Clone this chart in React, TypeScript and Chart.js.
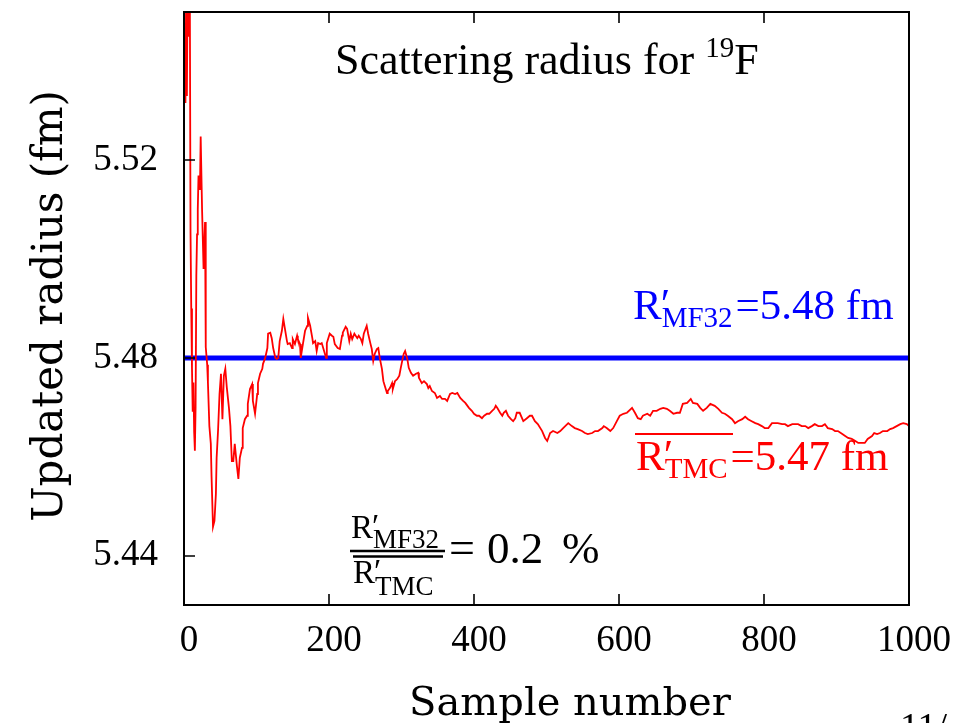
import React, { useEffect, useRef } from "react";
import { Chart, registerables } from "chart.js";

Chart.register(...registerables);

// ---- data ----
const sampleNumber = [
  1, 2, 3, 4, 5, 6, 7, 8, 9, 10,
  11, 12, 13, 14, 15, 16, 17, 18, 19, 20,
  22, 23, 25, 27, 29, 30, 32, 33, 35, 37,
  38, 40, 42, 44, 45, 47, 49, 51, 53, 55,
  57, 59, 62, 64, 66, 68, 70, 73, 75, 77,
  80, 81, 84, 87, 88, 91, 94, 95, 98, 101,
  102, 105, 108, 109, 112, 115, 116, 119, 121, 123,
  126, 128, 130, 132, 135, 137, 139, 142, 143, 146,
  149, 150, 153, 156, 157, 160, 161, 164, 167, 170,
  171, 174, 177, 178, 181, 183, 185, 188, 190, 192,
  196, 197, 201, 204, 206, 208, 212, 215, 218, 219,
  223, 225, 228, 230, 232, 235, 239, 241, 244, 246,
  248, 252, 254, 257, 259, 261, 263, 266, 268, 270,
  273, 275, 277, 280, 281, 284, 287, 288, 291, 294,
  297, 299, 301, 303, 305, 308, 310, 313, 316, 320,
  323, 324, 328, 331, 335, 337, 339, 342, 346, 349,
  353, 356, 360, 363, 367, 370, 374, 377, 381, 385,
  388, 390, 393, 397, 400, 404, 407, 411, 414, 418,
  421, 425, 428, 430, 432, 436, 439, 441, 444, 447,
  451, 454, 457, 459, 463, 468, 473, 477, 480, 484,
  488, 494, 498, 501, 505, 509, 515, 519, 523, 530,
  535, 539, 543, 549, 553, 557, 563, 567, 571, 577,
  579, 583, 588, 592, 597, 601, 606, 611, 618, 622,
  626, 630, 633, 639, 643, 647, 652, 657, 661, 666,
  670, 675, 680, 684, 688, 694, 699, 702, 708, 712,
  716, 721, 726, 732, 737, 742, 746, 750, 756, 760,
  764, 770, 774, 778, 783, 788, 792, 797, 801, 806,
  811, 815, 819, 825, 829, 833, 839, 843, 847, 852,
  857, 861, 866, 870, 875, 880, 884, 888, 894, 898,
  902, 908, 912, 916, 921, 926, 930, 935, 939, 943,
  949, 952, 956, 960, 964, 970, 974, 978, 983, 988,
  992, 997, 1000,
];

const updatedRadius = [
  5.540, 5.5316, 5.556, 5.533, 5.556, 5.545, 5.5476, 5.556, 5.5053, 5.490,
  5.478, 5.4691, 5.475, 5.465, 5.4612, 5.470, 5.4966, 5.505, 5.510, 5.5169,
  5.514, 5.5248, 5.5096, 5.498, 5.5075, 5.4822, 5.4786, 5.475, 5.4662, 5.4626,
  5.456, 5.4458, 5.447, 5.4525, 5.4598, 5.4654, 5.4727, 5.4768, 5.4676, 5.4764,
  5.4778, 5.4741, 5.4699, 5.4662, 5.4591, 5.4591, 5.4626, 5.4581, 5.4555, 5.4598,
  5.4618, 5.4658, 5.4676, 5.4683, 5.4707, 5.4737, 5.4747, 5.4713, 5.4687, 5.4727,
  5.4749, 5.4768, 5.4778, 5.4788, 5.480, 5.482, 5.4849, 5.4851, 5.484, 5.482,
  5.480, 5.4798, 5.480, 5.4834, 5.4855, 5.4879, 5.4861, 5.4834, 5.4828, 5.483,
  5.482, 5.4838, 5.4828, 5.4845, 5.4838, 5.4828, 5.480, 5.4828, 5.4855, 5.4865,
  5.4881, 5.4865, 5.484, 5.483, 5.4834, 5.4814, 5.483, 5.4828, 5.483, 5.482,
  5.480, 5.483, 5.4849, 5.4845, 5.4843, 5.4828, 5.482, 5.4818, 5.4845, 5.4851,
  5.4863, 5.4859, 5.4834, 5.4849, 5.4838, 5.4849, 5.484, 5.4845, 5.4838, 5.483,
  5.4849, 5.4865, 5.4849, 5.483, 5.4818, 5.4794, 5.4808, 5.4818, 5.482, 5.480,
  5.4778, 5.4753, 5.4743, 5.4729, 5.4733, 5.4739, 5.4749, 5.4737, 5.4753, 5.4757,
  5.4764, 5.478, 5.4794, 5.4808, 5.4814, 5.4798, 5.478, 5.477, 5.4764, 5.4768,
  5.477, 5.476, 5.4749, 5.4753, 5.4747, 5.4739, 5.4743, 5.4733, 5.4729, 5.4719,
  5.4723, 5.4717, 5.4717, 5.4713, 5.4727, 5.4729, 5.4727, 5.4729, 5.4719, 5.4713,
  5.4709, 5.4705, 5.4699, 5.4693, 5.4687, 5.4683, 5.4683, 5.4678, 5.4683, 5.4687,
  5.4687, 5.4693, 5.4697, 5.4703, 5.4699, 5.4689, 5.4683, 5.4689, 5.4693, 5.4683,
  5.4676, 5.4672, 5.4678, 5.4689, 5.4689, 5.4672, 5.4678, 5.4683, 5.4683, 5.4672,
  5.4666, 5.4652, 5.4638, 5.4632, 5.4648, 5.4652, 5.4648, 5.4652, 5.4658, 5.4668,
  5.4662, 5.4658, 5.4656, 5.4652, 5.4648, 5.4646, 5.4648, 5.4652, 5.4652, 5.4658,
  5.4662, 5.4658, 5.4652, 5.4658, 5.4672, 5.4683, 5.4687, 5.4689, 5.4699, 5.4689,
  5.4678, 5.4676, 5.4683, 5.4687, 5.4683, 5.4693, 5.4693, 5.4697, 5.4699, 5.4697,
  5.4693, 5.4687, 5.4689, 5.4689, 5.4707, 5.4709, 5.4717, 5.4709, 5.4707, 5.4699,
  5.4693, 5.4699, 5.4707, 5.4703, 5.4697, 5.4689, 5.4687, 5.4683, 5.4676, 5.4668,
  5.4672, 5.4676, 5.4681, 5.4676, 5.4672, 5.4668, 5.4666, 5.4662, 5.4658, 5.4658,
  5.4668, 5.4668, 5.4668, 5.4666, 5.4666, 5.4662, 5.4666, 5.4666, 5.4666, 5.4662,
  5.4662, 5.4658, 5.4662, 5.4666, 5.4662, 5.4662, 5.4666, 5.4658, 5.4656, 5.4652,
  5.4652, 5.4646, 5.4642, 5.4638, 5.4636, 5.4632, 5.4628, 5.4628, 5.4628, 5.4636,
  5.4642, 5.4648, 5.4646, 5.4648, 5.4652, 5.4652, 5.4656, 5.4658, 5.4662, 5.4666,
  5.4668, 5.4666, 5.4662,
];

const mf32Radius = 5.48;
const xTickValues = [0, 200, 400, 600, 800, 1000];
const yTickValues = [5.44, 5.48, 5.52];
const xRange = [0, 1000];
const yRange = [5.43, 5.55];

const SERIF = '"Liberation Serif", "Times New Roman", serif';
const WIDE = '"DejaVu Serif", serif';

function drawRSub(ctx: CanvasRenderingContext2D, x: number, base: number, size: number, sub: string, subSize: number, drop: number) {
  ctx.font = `${size}px ${SERIF}`;
  ctx.fillText("R", x, base);
  const w = ctx.measureText("R").width;
  ctx.fillText("\u2032", x + w - 1, base - size * 0.02);
  ctx.font = `${subSize}px ${SERIF}`;
  ctx.fillText(sub, x + w, base + drop);
  return x + w + ctx.measureText(sub).width;
}

const decorPlugin = {
  id: "decor",
  afterDraw(chart: any) {
    const ctx: CanvasRenderingContext2D = chart.ctx;
    const { left, right, top, bottom } = chart.chartArea;
    const xs = chart.scales.x;
    const ys = chart.scales.y;
    ctx.save();
    // frame
    ctx.strokeStyle = "#000";
    ctx.lineWidth = 2;
    ctx.strokeRect(left, top, right - left, bottom - top);
    // inward ticks
    ctx.lineWidth = 1.6;
    ctx.beginPath();
    for (const v of xTickValues) {
      const px = Math.round(xs.getPixelForValue(v));
      ctx.moveTo(px, bottom);
      ctx.lineTo(px, bottom - 11);
      ctx.moveTo(px, top);
      ctx.lineTo(px, top + 11);
    }
    for (const v of yTickValues) {
      const py = Math.round(ys.getPixelForValue(v));
      ctx.moveTo(left, py);
      ctx.lineTo(left + 11, py);
    }
    ctx.stroke();

    ctx.textAlign = "left";
    ctx.textBaseline = "alphabetic";
    ctx.fillStyle = "#000";

    // axis titles
    ctx.font = `40px ${WIDE}`;
    ctx.textAlign = "center";
    ctx.fillText("Sample number", 570, 715);
    ctx.save();
    ctx.translate(62, 306);
    ctx.rotate(-Math.PI / 2);
    ctx.font = `42px ${WIDE}`;
    ctx.fillText("Updated radius (fm)", 0, 0);
    ctx.restore();
    ctx.textAlign = "left";

    // inner title
    ctx.font = `44px ${SERIF}`;
    const t1 = "Scattering radius for ";
    ctx.fillText(t1, 335, 74);
    let xx = 335 + ctx.measureText(t1).width;
    ctx.font = `29px ${SERIF}`;
    ctx.fillText("19", xx, 57);
    xx += ctx.measureText("19").width;
    ctx.font = `44px ${SERIF}`;
    ctx.fillText("F", xx, 74);

    // blue label
    ctx.fillStyle = "#0000ff";
    let e = drawRSub(ctx, 633, 319, 43, "MF32", 29, 8);
    ctx.font = `43px ${SERIF}`;
    ctx.fillText("=5.48 fm", e + 3, 319);

    // red label
    ctx.fillStyle = "#ff0000";
    ctx.strokeStyle = "#ff0000";
    ctx.lineWidth = 2;
    ctx.beginPath();
    ctx.moveTo(635, 434);
    ctx.lineTo(733, 434);
    ctx.stroke();
    e = drawRSub(ctx, 636, 470, 43, "TMC", 29, 8);
    ctx.font = `43px ${SERIF}`;
    ctx.fillText("=5.47 fm", e + 3, 470);

    // ratio
    ctx.fillStyle = "#000";
    ctx.strokeStyle = "#000";
    drawRSub(ctx, 351, 538, 33, "MF32", 27, 10);
    ctx.lineWidth = 2.5;
    ctx.beginPath();
    ctx.moveTo(350, 551);
    ctx.lineTo(445, 551);
    ctx.moveTo(353, 556.5);
    ctx.lineTo(443, 556.5);
    ctx.stroke();
    drawRSub(ctx, 353, 583, 33, "TMC", 27, 12);
    ctx.font = `46px ${SERIF}`;
    ctx.fillText("=", 449, 563);
    ctx.font = `45px ${SERIF}`;
    ctx.fillText("0.2", 487, 563);
    ctx.fillText("%", 562, 563);

    // page number fragment
    ctx.font = `38px ${SERIF}`;
    ctx.fillText("11/", 900, 739);
    ctx.restore();
  },
};

function zeroPadding(s: any) {
  s.paddingTop = 0;
  s.paddingBottom = 0;
  s.paddingLeft = 0;
  s.paddingRight = 0;
}

export default function App() {
  const ref = useRef<HTMLCanvasElement>(null);
  useEffect(() => {
    if (!ref.current) return;
    const chart = new Chart(ref.current, {
      type: "line",
      data: {
        datasets: [
          {
            label: "TMC",
            data: sampleNumber.map((s, i) => ({ x: s, y: updatedRadius[i] })),
            borderColor: "#ff0000",
            borderWidth: 1.8,
            pointRadius: 0,
            tension: 0,
            fill: false,
          },
          {
            label: "MF32",
            data: xRange.map((s) => ({ x: s, y: mf32Radius })),
            borderColor: "#0000ff",
            borderWidth: 5,
            pointRadius: 0,
            fill: false,
          },
        ],
      },
      options: {
        animation: false,
        responsive: false,
        devicePixelRatio: 1,
        layout: { padding: { top: 12, right: 52, left: 0, bottom: 0 } },
        plugins: { legend: { display: false }, tooltip: { enabled: false } },
        scales: {
          x: {
            type: "linear",
            min: xRange[0],
            max: xRange[1],
            afterBuildTicks: (s: any) => {
              s.ticks = xTickValues.map((v) => ({ value: v }));
            },
            afterFit: (s: any) => {
              s.height = 118;
              zeroPadding(s);
            },
            grid: { display: false, drawTicks: false },
            border: { display: false },
            ticks: {
              color: "#000",
              font: { family: SERIF, size: 37 },
              padding: 14,
              labelOffset: 5,
              maxRotation: 0,
              autoSkip: false,
              callback: (v: any) => String(v),
            },
          },
          y: {
            type: "linear",
            min: yRange[0],
            max: yRange[1],
            afterBuildTicks: (s: any) => {
              s.ticks = yTickValues.map((v) => ({ value: v }));
            },
            afterFit: (s: any) => {
              s.width = 184;
              zeroPadding(s);
            },
            grid: { display: false, drawTicks: false },
            border: { display: false },
            ticks: {
              color: "#000",
              font: { family: SERIF, size: 37 },
              padding: 26,
              callback: (v: any) => Number(v).toFixed(2),
            },
          },
        },
      },
      plugins: [decorPlugin],
    });
    return () => chart.destroy();
  }, []);
  return (
    <div style={{ position: "fixed", left: 0, top: 0, width: 961, height: 723, background: "#fff" }}>
      <canvas ref={ref} width={961} height={723} style={{ display: "block" }} />
    </div>
  );
}
